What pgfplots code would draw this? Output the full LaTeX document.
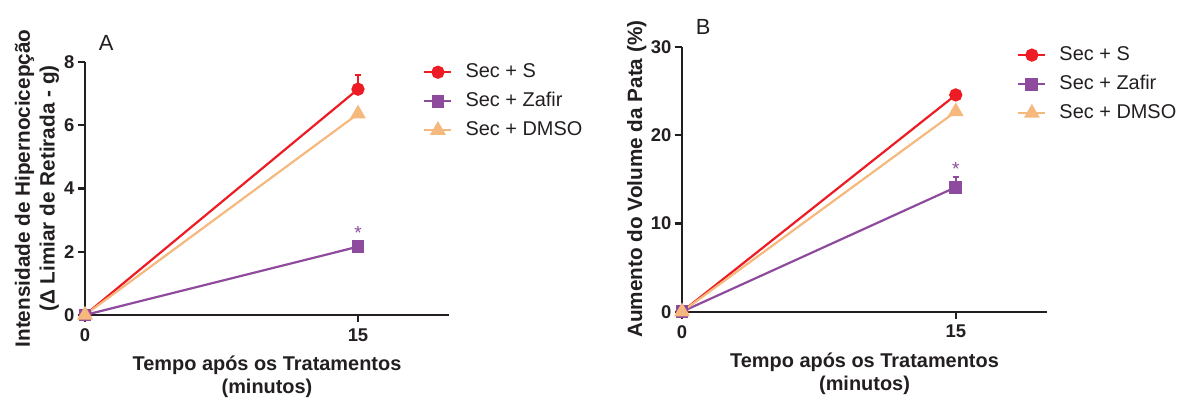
\documentclass[border=0pt]{standalone}
\usepackage{pgfplots}
\pgfplotsset{compat=1.18}
\usepackage{fontspec}
\setmainfont{Liberation Sans}
\definecolor{cred}{RGB}{237,28,36}
\definecolor{cpur}{RGB}{142,75,158}
\definecolor{ctan}{RGB}{245,185,125}
\definecolor{caxis}{RGB}{35,31,32}
\pgfplotsset{
  mystyle/.style={
    scale only axis,
    axis x line*=bottom, axis y line*=left,
    axis line style={line width=2.3bp, color=caxis},
    tick align=outside, major tick length=7bp,
    tick style={line width=2.3bp, color=caxis},
    xmin=0, xmax=20, ymin=0, xtick={0,15},
    clip=false,
    tick label style={font=\fontsize{18.5}{20}\selectfont\bfseries, text=caxis},
    xticklabel style={yshift=-3bp},
    /pgf/number format/assume math mode=true,
    label style={font=\fontsize{20}{23}\selectfont\bfseries, align=center, text=caxis},
    ylabel style={font=\fontsize{20.8}{25}\selectfont\bfseries},
    legend style={draw=none, fill=none, font=\fontsize{20}{22}\selectfont, text=caxis,
      anchor=north west, inner sep=0pt,
      nodes={inner sep=0pt, text height=14bp, text depth=4bp, anchor=west},
      row sep=11bp, column sep=13bp},
    legend cell align=left,
    legend image code/.code={\draw[mark repeat=2,mark phase=2,##1] plot coordinates {(0bp,0bp) (13.5bp,0bp) (27bp,0bp)};},
    title style={font=\fontsize{22}{24}\selectfont, anchor=center, text=caxis},
  },
  sS/.style={color=cred, line width=2.2bp, mark=*, mark size=5.5bp, mark options={solid}},
  sZ/.style={color=cpur, line width=2.2bp, mark=square*, mark size=5.3bp, mark options={solid}},
  sD/.style={color=ctan, line width=2.2bp, mark=triangle*, mark size=7bp, mark options={solid}},
  errs/.style={error bars/.cd, y dir=plus, y explicit,
    error bar style={line width=2.2bp}, error mark options={rotate=90, mark size=3.2bp, line width=2.2bp}},
  star/.style={forget plot, only marks, color=cpur, mark=text, text mark={*}, text mark as node=true,
    text mark style={anchor=center, font=\fontsize{19}{20}\selectfont, text=cpur}},
}
\begin{document}
\begin{tikzpicture}
\useasboundingbox (0,0) rectangle (1178bp,399bp);
% Panel A
\begin{axis}[mystyle,
  at={(85bp,84bp)}, anchor=south west,
  width=364bp, height=253bp,
  ymax=8, ytick={0,2,4,6,8},
  xlabel={Tempo após os Tratamentos\\(minutos)},
  ylabel={Intensidade de Hipernocicepção\\(Δ Limiar de Retirada - g)},
  xlabel style={at={(axis description cs:0.5,-0.245)}, anchor=center},
  ylabel style={at={(axis description cs:-0.132,0.5)}, anchor=center},
  title={A}, title style={at={(axis description cs:0.058,1.051)}},
  legend style={at={(axis description cs:0.929,0.996)}},
]
\addplot[sS, errs] coordinates {(0,0) +- (0,0) (15,7.14) +- (0,0.44)};
\addlegendentry{Sec + S}
\addplot[sZ] coordinates {(0,0) (15,2.16)};
\addlegendentry{Sec + Zafir}
\addplot[sD] coordinates {(0,0) (15,6.36)};
\addlegendentry{Sec + DMSO}
\addplot[star] coordinates {(15,2.6)};
\end{axis}
% Panel B
\begin{axis}[mystyle,
  at={(682bp,87.3bp)}, anchor=south west,
  width=365bp, height=265bp,
  ymax=30, ytick={0,10,20,30},
  xlabel={Tempo após os Tratamentos\\(minutos)},
  ylabel={Aumento do Volume da Pata (\%)},
  xlabel style={at={(axis description cs:0.5,-0.235)}, anchor=center},
  ylabel style={at={(axis description cs:-0.124,0.5)}, anchor=center},
  title={B}, title style={at={(axis description cs:0.058,1.052)}},
  legend style={at={(axis description cs:0.918,1.003)}},
]
\addplot[sS] coordinates {(0,0) (15,24.54)};
\addlegendentry{Sec + S}
\addplot[sZ, errs] coordinates {(0,0) +- (0,0) (15,14.09) +- (0,1.2)};
\addlegendentry{Sec + Zafir}
\addplot[sD] coordinates {(0,0) (15,22.65)};
\addlegendentry{Sec + DMSO}
\addplot[star] coordinates {(15,16.1)};
\end{axis}
\end{tikzpicture}
\end{document}
